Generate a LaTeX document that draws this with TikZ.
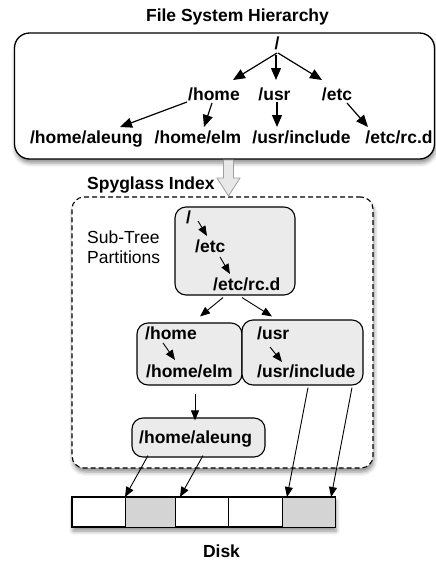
\documentclass[tikz,border=0pt]{standalone}
\usepackage{fontspec}
\setmainfont{Liberation Sans}
\usetikzlibrary{arrows.meta,shadows.blur}
\definecolor{partgray}{HTML}{EBEBEB}
\definecolor{cellgray}{HTML}{D4D4D4}
\begin{document}
\begin{tikzpicture}[x=1pt,y=-1pt,
  lbl/.style={inner sep=0pt, font=\bfseries\fontsize{17.5}{20}\selectfont},
  plain/.style={inner sep=0pt, font=\fontsize{17.5}{20}\selectfont},
  arr/.style={line width=1.2pt, -{Triangle[length=12pt,width=10pt]}},
  sarr/.style={line width=0.9pt, -{Triangle[length=10pt,width=8pt]}},
  shad/.style={blur shadow={shadow xshift=1pt, shadow yshift=-4pt, shadow blur radius=4pt, shadow opacity=45}},
  part/.style={draw, line width=1.1pt, fill=partgray, rounded corners=11pt, inner sep=0pt},
  cell/.style={draw, line width=1.1pt, minimum height=30pt, inner sep=0pt, anchor=north west},
]
\useasboundingbox (0,0) rectangle (436,563);

% title
\node[lbl, anchor=base] (title) at (237.5,21) {File System Hierarchy};

% top box
\node[draw, line width=1.3pt, rounded corners=15pt, fill=white, shad,
      minimum width=420pt, minimum height=126pt, inner sep=0pt] (fsbox) at (224.5,96) {};

\node[lbl, anchor=base] (root) at (277,49) {/};
\node[lbl, anchor=base] (home) at (214,100) {/home};
\node[lbl, anchor=base] (usr) at (274.5,100) {/usr};
\node[lbl, anchor=base] (etc) at (337,100) {/etc};
\node[lbl, anchor=base] (aleung) at (86.5,143) {/home/aleung};
\node[lbl, anchor=base] (elm) at (198,143) {/home/elm};
\node[lbl, anchor=base] (incl) at (301.5,143) {/usr/include};
\node[lbl, anchor=base] (rcd) at (399,143) {/etc/rc.d};

\draw[arr] ([shift={(0,4)}]root.base) -- ([shift={(19,-20)}]home.base);
\draw[arr] ([shift={(-1,6)}]root.base) -- ([shift={(1.5,-20)}]usr.base);
\draw[arr] ([shift={(1,4)}]root.base) -- ([shift={(-15,-20)}]etc.base);
\draw[arr] ([shift={(-27,2)}]home.base) -- ([shift={(33.5,-16)}]aleung.base);
\draw[arr] ([shift={(-2,3)}]home.base) -- ([shift={(6,-16)}]elm.base);
\draw[arr] ([shift={(2.5,2)}]usr.base) -- ([shift={(-24.5,-16)}]incl.base);
\draw[arr] ([shift={(10,3)}]etc.base) -- ([shift={(-31,-16)}]rcd.base);

% spyglass index box
\node[draw, dashed, dash pattern=on 5pt off 3pt, line width=1.1pt, rounded corners=12pt,
      fill=white, shad, minimum width=301pt, minimum height=271pt, inner sep=0pt] (index) at (222.5,332.5) {};

% hollow arrow
\draw[line width=0.8pt, draw=gray!75, fill=gray!18]
  (223.5,160) -- (233.5,160) -- (233.5,178) -- (240,178) -- (228.5,196)
  -- (217,178) -- (223.5,178) -- cycle;

\node[lbl, anchor=base west] (spy) at (87,189) {Spyglass Index};
\node[plain, anchor=base west] (sub1) at (87,243) {Sub-Tree};
\node[plain, anchor=base west] (sub2) at (87,263) {Partitions};

% partitions
\node[part, minimum width=120pt, minimum height=88pt] (p1) at (235,251) {};
\node[part, minimum width=105pt, minimum height=62pt] (p2) at (189.5,354) {};
\node[part, minimum width=121pt, minimum height=65pt] (p3) at (302.5,352.5) {};
\node[part, minimum width=133pt, minimum height=39pt] (p4) at (198.5,437.5) {};

\node[lbl, anchor=base west] (pslash) at (186,223) {/};
\node[lbl, anchor=base west] (petc) at (195,252) {/etc};
\node[lbl, anchor=base west] (prcd) at (213,290) {/etc/rc.d};
\node[lbl, anchor=base west] (phome) at (145,339) {/home};
\node[lbl, anchor=base west] (pelm) at (146,377) {/home/elm};
\node[lbl, anchor=base west] (pusr) at (257,339) {/usr};
\node[lbl, anchor=base west] (pincl) at (257,377) {/usr/include};
\node[lbl, anchor=base west] (paleung) at (139,443) {/home/aleung};

\draw[sarr] ([shift={(12,-2)}]pslash.base west) -- ([shift={(12,-16)}]petc.base west);
\draw[sarr] ([shift={(25,5)}]petc.base west) -- ([shift={(17,-16)}]prcd.base west);
\draw[sarr] ([shift={(18,4)}]phome.base west) -- ([shift={(29,-17)}]pelm.base west);
\draw[sarr] ([shift={(13,8)}]pusr.base west) -- ([shift={(25,-15)}]pincl.base west);

\draw[sarr] ([shift={(-12,2)}]p1.south) -- ([shift={(10.5,-6)}]p2.north);
\draw[sarr] ([shift={(7,2)}]p1.south) -- ([shift={(-30.5,-3)}]p3.north);
\draw[sarr] ([shift={(5.5,8)}]p2.south) -- ([shift={(-3.5,3)}]p4.north);

% disk
\node[draw, line width=1.1pt, fill=white, shad, minimum width=263pt, minimum height=30pt, inner sep=0pt] (disk) at (203.5,512) {};
\node[cell, minimum width=53pt] (c1) at (72,497) {};
\node[cell, minimum width=50pt, fill=cellgray] (c2) at (125,497) {};
\node[cell, minimum width=53pt] (c3) at (175,497) {};
\node[cell, minimum width=54pt] (c4) at (228,497) {};
\node[cell, minimum width=53pt, fill=cellgray] (c5) at (282,497) {};

\draw[sarr] ([shift={(-50.5,-2)}]p4.south) -- (c2.north west);
\draw[sarr] ([shift={(4.5,-2)}]p4.south) -- ([shift={(5,0)}]c3.north west);
\draw[sarr] ([shift={(5.5,2)}]p3.south) -- ([shift={(5,0)}]c5.north west);
\draw[sarr] ([shift={(49.5,2)}]p3.south) -- ([shift={(-5,0)}]c5.north east);

\node[lbl, anchor=base] (disklbl) at (221.5,557) {Disk};
\end{tikzpicture}
\end{document}
